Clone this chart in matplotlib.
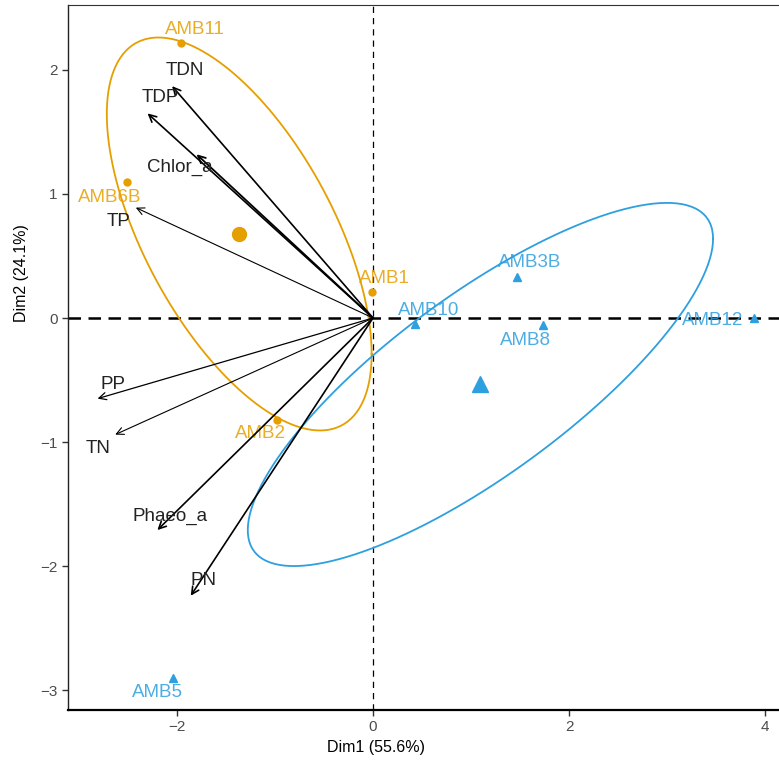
import numpy as np
import matplotlib
matplotlib.use("Agg")
import matplotlib.pyplot as plt

plt.rcParams['font.family'] = ['Liberation Sans', 'DejaVu Sans']

# individuals (PCA coordinates) and their groups
ind_names = ['AMB11', 'AMB6B', 'AMB1', 'AMB2', 'AMB3B', 'AMB10', 'AMB8', 'AMB12', 'AMB5']
ind_x = [-1.96, -2.51, -0.01, -0.98, 1.47, 0.43, 1.73, 3.89, -2.04]
ind_y = [2.22, 1.10, 0.21, -0.82, 0.33, -0.05, -0.06, 0.00, -2.90]
ind_group = ['A', 'A', 'A', 'A', 'B', 'B', 'B', 'B', 'B']

# variables (arrow tips)
var_names = ['TDN', 'TDP', 'Chlor_a', 'TP', 'PP', 'TN', 'Phaeo_a', 'PN']
var_x = [-2.05, -2.30, -1.80, -2.42, -2.81, -2.63, -2.20, -1.86]
var_y = [1.87, 1.65, 1.32, 0.89, -0.65, -0.94, -1.71, -2.24]

groups = ['A', 'B']
group_colors = {'A': '#E69F00', 'B': '#2E9FDF'}
group_markers = {'A': 'o', 'B': '^'}
ellipse_scale = {'A': 1.225, 'B': 1.10}

# label offsets in pixels (dx right, dy down)
ind_offsets = {'AMB11': (14, -13), 'AMB6B': (-17, 16), 'AMB1': (12, -13), 'AMB2': (-16, 14),
               'AMB3B': (13, -15), 'AMB10': (14, -14), 'AMB8': (-17, 15), 'AMB12': (-42, 2),
               'AMB5': (-16, 15)}
var_offsets = {'TDN': (13, -16), 'TDP': (13, -16), 'Chlor_a': (-17, 13), 'TP': (-17, 14),
               'PP': (15, -14), 'TN': (-17, 14), 'Phaeo_a': (13, -14), 'PN': (13, -15)}
var_lw = {'TDN': 1.2, 'TDP': 1.2, 'Chlor_a': 1.3, 'TP': 0.8, 'PP': 0.9, 'TN': 0.8,
          'Phaeo_a': 1.2, 'PN': 1.2}

fig = plt.figure(figsize=(7.79, 7.6), dpi=100)
ax = fig.add_axes([68 / 779, 50 / 760, 714 / 779, 705 / 760])
ax.set_xlim(-3.112, 4.173)
ax.set_ylim(-3.161, 2.524)

ax.axhline(0, color='black', lw=1.8, ls=(0, (5, 3)), zorder=1)
ax.axvline(0, color='black', lw=0.9, ls=(0, (5, 4)), zorder=1)

ind_x = np.array(ind_x)
ind_y = np.array(ind_y)
ind_group = np.array(ind_group)

t = np.linspace(0, 2 * np.pi, 300)
for g in groups:
    m = ind_group == g
    gx, gy = ind_x[m], ind_y[m]
    col = group_colors[g]
    cov = np.cov(gx, gy)
    L = np.linalg.cholesky(cov)
    circ = np.vstack([np.cos(t), np.sin(t)]) * ellipse_scale[g]
    ell = L @ circ
    ax.plot(gx.mean() + ell[0], gy.mean() + ell[1], color=col, lw=1.3, zorder=2)
    ms_small = 5 if g == 'A' else 6
    ax.plot(gx, gy, ls='none', marker=group_markers[g], ms=ms_small, color=col, zorder=3)
    ms_big = 10 if g == 'A' else 12
    ax.plot(gx.mean(), gy.mean(), ls='none', marker=group_markers[g], ms=ms_big,
            color=col, zorder=3)

for name, x, y, g in zip(ind_names, ind_x, ind_y, ind_group):
    dx, dy = ind_offsets[name]
    ax.annotate(name, (x, y), xytext=(dx * 0.72, -dy * 0.72), textcoords='offset points',
                ha='center', va='center', fontsize=13.5, color=group_colors[g], alpha=0.85,
                zorder=4)

for name, x, y in zip(var_names, var_x, var_y):
    ax.annotate('', xy=(x, y), xytext=(0, 0),
                arrowprops=dict(arrowstyle='->', color='black', lw=var_lw[name],
                                mutation_scale=13, shrinkA=0, shrinkB=0), zorder=5)
    dx, dy = var_offsets[name]
    ax.annotate(name, (x, y), xytext=(dx * 0.72, -dy * 0.72), textcoords='offset points',
                ha='center', va='center', fontsize=13.5, color='#222222', zorder=6)

ax.set_xticks([-2, 0, 2, 4])
ax.set_yticks([-3, -2, -1, 0, 1, 2])
ax.tick_params(length=4, width=1, color='#333333', labelcolor='#4D4D4D', labelsize=11)
for side in ['top', 'right']:
    ax.spines[side].set_linewidth(0.8)
    ax.spines[side].set_color('#333333')
ax.spines['left'].set_linewidth(1.0)
ax.spines['bottom'].set_linewidth(1.6)
ax.spines['left'].set_color('#222222')
ax.spines['bottom'].set_color('black')

ax.set_xlabel('Dim1 (55.6%)', fontsize=11.5)
ax.set_ylabel('Dim2 (24.1%)', fontsize=11.5)
ax.xaxis.set_label_coords(0.431, -0.043)
ax.yaxis.set_label_coords(-0.055, 0.62)

fig.savefig('out.png', dpi=100)
